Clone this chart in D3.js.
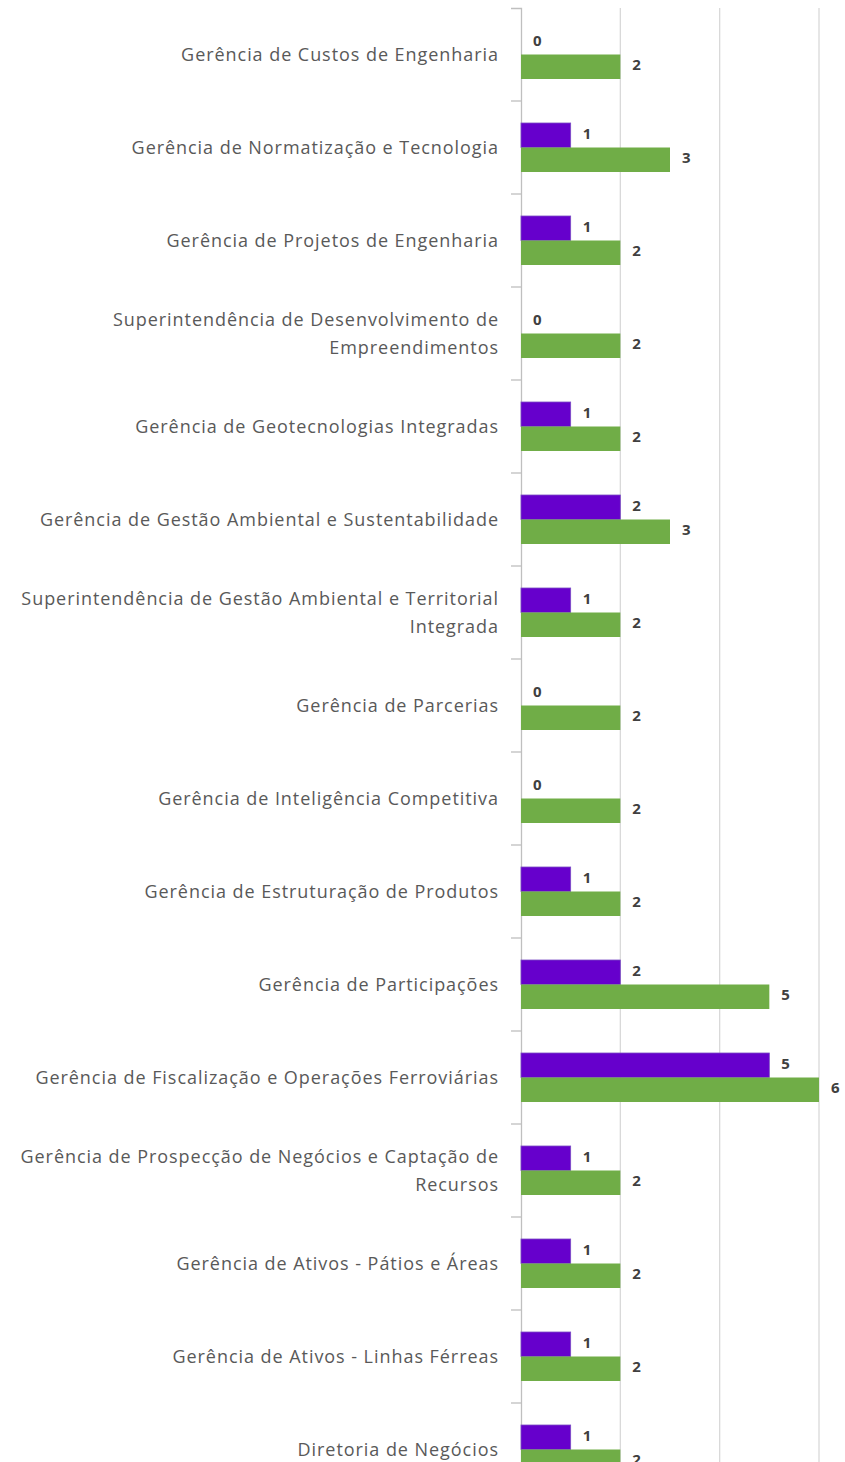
<!DOCTYPE html>
<html>
<head>
<meta charset="utf-8">
<script src="https://cdn.jsdelivr.net/npm/d3@7"></script>
<style>
  body { margin: 0; background: #fff; }
  svg { display: block; }
  .cat { font-family: "Open Sans", sans-serif; font-size: 18px; letter-spacing: 0.95px; fill: #595959; }
  .val { font-family: "Open Sans", sans-serif; font-size: 15px; font-weight: bold; fill: #404040; }
</style>
</head>
<body>
<svg></svg>
<script>
var width = 845;
var height = 1462;

// categories, top to bottom
var categories = [
  "Gerência de Custos de Engenharia",
  "Gerência de Normatização e Tecnologia",
  "Gerência de Projetos de Engenharia",
  "Superintendência de Desenvolvimento de Empreendimentos",
  "Gerência de Geotecnologias Integradas",
  "Gerência de Gestão Ambiental e Sustentabilidade",
  "Superintendência de Gestão Ambiental e Territorial Integrada",
  "Gerência de Parcerias",
  "Gerência de Inteligência Competitiva",
  "Gerência de Estruturação de Produtos",
  "Gerência de Participações",
  "Gerência de Fiscalização e Operações Ferroviárias",
  "Gerência de Prospecção de Negócios e Captação de Recursos",
  "Gerência de Ativos - Pátios e Áreas",
  "Gerência de Ativos - Linhas Férreas",
  "Diretoria de Negócios"
];

var purpleValues = [0, 1, 1, 0, 1, 2, 1, 0, 0, 1, 2, 5, 1, 1, 1, 1];
var greenValues  = [2, 3, 2, 2, 2, 3, 2, 2, 2, 2, 5, 6, 2, 2, 2, 2];
var gridTicks = [2, 4, 6];

var seriesColors = ["#6600cc", "#70ad47"];

var svg = d3.select("svg")
    .attr("width", width)
    .attr("height", height)

var x = d3.scaleLinear()
    .domain([0, 6])
    .range([521, 819])

var y = d3.scaleBand()
    .domain(categories)
    .range([8, 8 + 93 * categories.length])

var barH = 24.5;

// gridlines
svg.append("g")
    .selectAll("line")
    .data(gridTicks)
    .enter()
    .append("line")
    .attr("x1", d => x(d))
    .attr("x2", d => x(d))
    .attr("y1", 8)
    .attr("y2", height)
    .attr("stroke", "#d9d9d9")
    .attr("stroke-width", 1.3)

// category axis
var yAxis = d3.axisLeft(y).tickSize(10).tickFormat("")
var axisG = svg.append("g")
    .attr("transform", "translate(" + x(0) + ",0)")
    .call(yAxis)
axisG.select(".domain").attr("stroke", "#bfbfbf").attr("stroke-width", 1.3)
axisG.selectAll(".tick").remove()

// tick marks sit on band boundaries
svg.append("g")
    .selectAll("line")
    .data(categories.slice(1))
    .enter()
    .append("line")
    .attr("x1", x(0) - 10)
    .attr("x2", x(0))
    .attr("y1", d => y(d))
    .attr("y2", d => y(d))
    .attr("stroke", "#bfbfbf")
    .attr("stroke-width", 1.3)

// category labels, wrapped
var labels = svg.append("g")
    .selectAll("text")
    .data(categories)
    .enter()
    .append("text")
    .attr("class", "cat")
    .attr("text-anchor", "end")

labels.each(function(d) {
    var el = d3.select(this);
    var words = d.split(" ");
    var lines = [];
    var line = [];
    var t = el.append("tspan");
    words.forEach(function(w) {
        line.push(w);
        t.text(line.join(" "));
        if (t.node().getComputedTextLength() > 490 && line.length > 1) {
            line.pop();
            lines.push(line.join(" "));
            line = [w];
        }
    });
    lines.push(line.join(" "));
    t.remove();
    var cy = y(d) + y.bandwidth() / 2;
    var lh = 28;
    lines.forEach(function(l, i) {
        el.append("tspan")
            .attr("x", 499)
            .attr("y", cy + (i - (lines.length - 1) / 2) * lh)
            .attr("dy", "0.35em")
            .text(l);
    });
})

// bars
var rows = categories.map(function(c, i) {
    return { cat: c, vals: [purpleValues[i], greenValues[i]] };
});

var rowG = svg.append("g")
    .selectAll("g")
    .data(rows)
    .enter()
    .append("g")
    .attr("transform", d => "translate(0," + (y(d.cat) + y.bandwidth() / 2 - barH) + ")")

rowG.selectAll("rect")
    .data(d => d.vals)
    .enter()
    .append("rect")
    .attr("x", x(0))
    .attr("y", (d, i) => i * barH)
    .attr("width", d => x(d) - x(0))
    .attr("height", barH)
    .attr("fill", (d, i) => seriesColors[i])
    .attr("stroke", (d, i) => i == 0 ? "#7a4cc4" : "none")
    .attr("stroke-width", 0.8)

rowG.selectAll("text")
    .data(d => d.vals)
    .enter()
    .append("text")
    .attr("class", "val")
    .attr("x", d => x(d) + 12)
    .attr("y", (d, i) => i * barH + barH / 2 - 2)
    .attr("dy", "0.35em")
    .text(d => d)
</script>
</body>
</html>
